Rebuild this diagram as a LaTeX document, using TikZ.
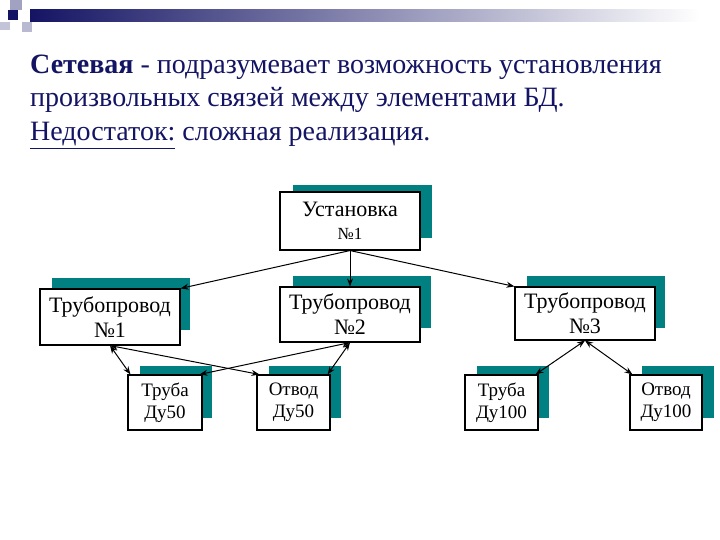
\documentclass[tikz,border=0pt]{standalone}
\usepackage{fontspec}
\setmainfont{Liberation Serif}
\usetikzlibrary{arrows.meta}
\definecolor{navy}{RGB}{20,20,100}
\definecolor{teal2}{RGB}{0,128,128}
\begin{document}
\begin{tikzpicture}[x=1pt,y=-1pt,
  box/.style={draw=black,fill=white,line width=1.1pt,align=center,inner sep=0pt,font=\fontsize{22}{25}\selectfont},
  sbox/.style={box,font=\fontsize{19}{22}\selectfont},
  title/.style={anchor=base west,inner sep=0pt,text=navy,font=\fontsize{28}{32}\selectfont},
  arr/.style={-{Stealth[length=8pt,width=6pt]},line width=1pt},
  darr/.style={{Stealth[length=8pt,width=6pt]}-{Stealth[length=8pt,width=6pt]},line width=1pt}]
\useasboundingbox (0,0) rectangle (720,540);
\fill[white] (0,0) rectangle (720,540);
% header decoration
\shade[left color=navy,right color=white] (30,10) rectangle (700,22);
\fill[navy!40] (10,0) rectangle (22,10);
\fill[navy!30] (22,22) rectangle (32,32);
\fill[navy!25] (0,22) rectangle (10,30);
\fill[navy] (8,10) rectangle (18,20);
% title
\node[title] (t1) at (30,74) {\textbf{Сетевая} - подразумевает возможность установления};
\node[title] (t2) at (30,107) {произвольных связей между элементами БД.};
\node[title] (t3) at (30,141) {\underline{Недостаток:}\ сложная реализация.};
% shadows
\foreach \x/\y/\w/\h in {293/185/139/53, 52/278/138/52, 293/276/138/52, 527/276/138/52, 140/366/72/52, 269/366/72/52, 477/366/72/52, 642/366/72/52}
  \fill[teal2] (\x,\y) rectangle ++(\w,\h);
% boxes
\node[box,minimum width=140pt,minimum height=58pt] (u) at (350,221) {Установка\\[-2pt]{\fontsize{17}{19}\selectfont №1}};
\node[box,minimum width=140pt,minimum height=56pt] (p1) at (110,317) {Трубопровод\\№1};
\node[box,minimum width=140pt,minimum height=55pt] (p2) at (350,314.5) {Трубопровод\\№2};
\node[box,minimum width=140pt,minimum height=53pt] (p3) at (585,313.5) {Трубопровод\\№3};
\node[sbox,minimum width=74pt,minimum height=55pt] (a) at (165,402.5) {Труба\\Ду50};
\node[sbox,minimum width=73pt,minimum height=55pt] (b) at (293.5,402.5) {Отвод\\Ду50};
\node[sbox,minimum width=73pt,minimum height=55pt] (c) at (501.5,402.5) {Труба\\Ду100};
\node[sbox,minimum width=72pt,minimum height=55pt] (d) at (666,402.5) {Отвод\\Ду100};
% arrows
\draw[arr] (u.south) -- (p1.north east);
\draw[arr] (u.south) -- (p2.north);
\draw[arr] (u.south) -- (p3.north west);
\draw[darr] (p1.south) -- ([xshift=3pt]a.north west);
\draw[darr] (p1.south) -- ([xshift=3pt]b.north west);
\draw[darr] (p2.south) -- ([xshift=-3pt]a.north east);
\draw[darr] (p2.south) -- ([xshift=-3pt]b.north east);
\draw[darr] (p3.south) -- ([xshift=-3pt]c.north east);
\draw[darr] (p3.south) -- ([xshift=3pt]d.north west);
\end{tikzpicture}
\end{document}
